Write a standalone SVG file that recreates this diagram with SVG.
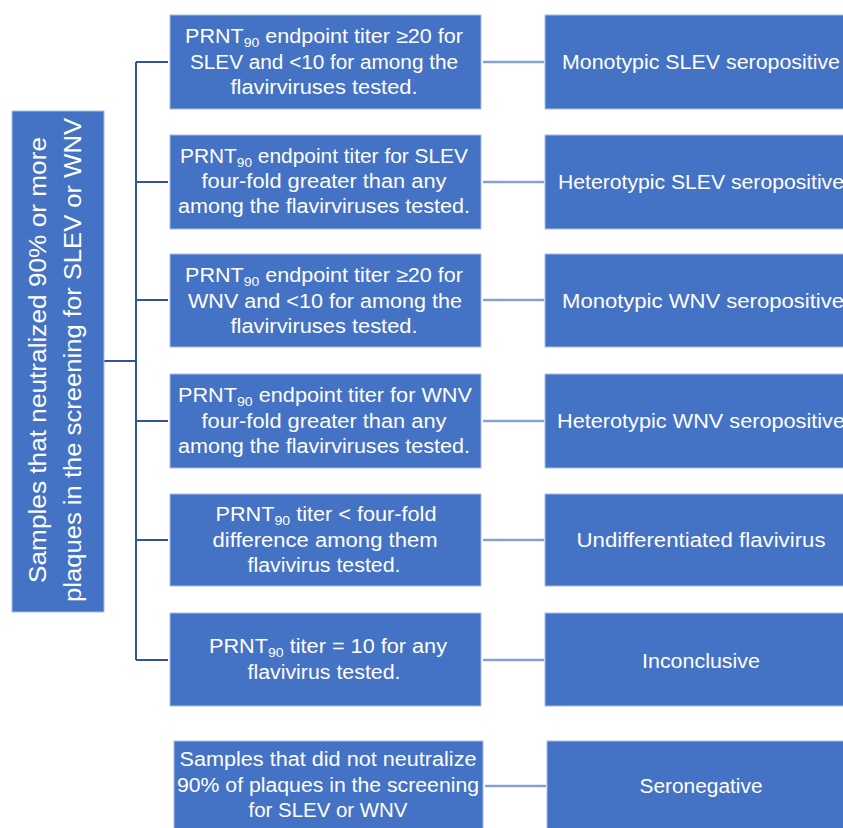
<svg xmlns="http://www.w3.org/2000/svg" width="843" height="828" viewBox="0 0 843 828">
<style>
.box{fill:#4472C4;stroke:#A9BEE6;stroke-width:1}
.t{font-family:"Liberation Sans",Arial,sans-serif;font-size:20px;fill:#FFFFFF;text-anchor:middle}
.big{font-size:23px}
.sub{font-size:13px}
.trunk{stroke:#2F5597;stroke-width:2;fill:none}
.link{stroke:#86A3D9;stroke-width:2.5;fill:none}
</style>
<rect width="843" height="828" fill="#FFFFFF"/>
<g id="connectors">
<path class="trunk" d="M136 62V660M104 361H136M136 62H168M136 182H168M136 300H168M136 421H168M136 540H168M136 660H168"/>
<path class="link" d="M483 62H544M483 182H544M483 300H544M483 421H544M483 540H544M483 660H544M485 786H546"/>
</g>
<g id="root">
<rect class="box" x="12" y="111" width="92" height="501"/>
<text class="t big" transform="translate(46,360) rotate(-90)" textLength="446" lengthAdjust="spacingAndGlyphs">Samples that neutralized 90% or more</text>
<text class="t big" transform="translate(81,360) rotate(-90)" textLength="484" lengthAdjust="spacingAndGlyphs">plaques in the screening for SLEV or WNV</text>
</g>
<g id="c1">
<rect class="box" x="170" y="15" width="311" height="94"/>
<text class="t" x="324" y="43" textLength="278" lengthAdjust="spacingAndGlyphs">PRNT<tspan class="sub" dy="4">90</tspan><tspan dy="-4"> endpoint titer ≥20 for</tspan></text>
<text class="t" x="324" y="69" textLength="268" lengthAdjust="spacingAndGlyphs">SLEV and &lt;10 for among the</text>
<text class="t" x="324" y="94" textLength="187" lengthAdjust="spacingAndGlyphs">flavirviruses tested.</text>
</g>
<g id="c2">
<rect class="box" x="170" y="135" width="311" height="94"/>
<text class="t" x="324" y="163" textLength="288" lengthAdjust="spacingAndGlyphs">PRNT<tspan class="sub" dy="4">90</tspan><tspan dy="-4"> endpoint titer for SLEV</tspan></text>
<text class="t" x="324" y="188" textLength="245" lengthAdjust="spacingAndGlyphs">four-fold greater than any</text>
<text class="t" x="324" y="213" textLength="292" lengthAdjust="spacingAndGlyphs">among the flavirviruses tested.</text>
</g>
<g id="c3">
<rect class="box" x="170" y="254" width="311" height="93"/>
<text class="t" x="324" y="282" textLength="278" lengthAdjust="spacingAndGlyphs">PRNT<tspan class="sub" dy="4">90</tspan><tspan dy="-4"> endpoint titer ≥20 for</tspan></text>
<text class="t" x="325" y="308" textLength="274" lengthAdjust="spacingAndGlyphs">WNV and &lt;10 for among the</text>
<text class="t" x="324" y="333" textLength="187" lengthAdjust="spacingAndGlyphs">flavirviruses tested.</text>
</g>
<g id="c4">
<rect class="box" x="170" y="374" width="311" height="94"/>
<text class="t" x="325" y="402" textLength="294" lengthAdjust="spacingAndGlyphs">PRNT<tspan class="sub" dy="4">90</tspan><tspan dy="-4"> endpoint titer for WNV</tspan></text>
<text class="t" x="324" y="428" textLength="245" lengthAdjust="spacingAndGlyphs">four-fold greater than any</text>
<text class="t" x="324" y="453" textLength="292" lengthAdjust="spacingAndGlyphs">among the flavirviruses tested.</text>
</g>
<g id="c5">
<rect class="box" x="170" y="494" width="311" height="92"/>
<text class="t" x="326" y="521" textLength="221" lengthAdjust="spacingAndGlyphs">PRNT<tspan class="sub" dy="4">90</tspan><tspan dy="-4"> titer &lt; four-fold</tspan></text>
<text class="t" x="325" y="547" textLength="225" lengthAdjust="spacingAndGlyphs">difference among them</text>
<text class="t" x="324" y="572" textLength="153" lengthAdjust="spacingAndGlyphs">flavivirus tested.</text>
</g>
<g id="c6">
<rect class="box" x="170" y="613" width="311" height="93"/>
<text class="t" x="328" y="653" textLength="238" lengthAdjust="spacingAndGlyphs">PRNT<tspan class="sub" dy="4">90</tspan><tspan dy="-4"> titer = 10 for any</tspan></text>
<text class="t" x="324" y="679" textLength="153" lengthAdjust="spacingAndGlyphs">flavivirus tested.</text>
</g>
<g id="neg">
<rect class="box" x="174" y="741" width="309" height="92"/>
<text class="t" x="328" y="766" textLength="297" lengthAdjust="spacingAndGlyphs">Samples that did not neutralize</text>
<text class="t" x="328" y="792" textLength="302" lengthAdjust="spacingAndGlyphs">90% of plaques in the screening</text>
<text class="t" x="328" y="817" textLength="159" lengthAdjust="spacingAndGlyphs">for SLEV or WNV</text>
</g>
<g id="r1">
<rect class="box" x="545" y="15" width="312" height="94"/>
<text class="t" x="701" y="69" textLength="278" lengthAdjust="spacingAndGlyphs">Monotypic SLEV seropositive</text>
</g>
<g id="r2">
<rect class="box" x="545" y="135" width="312" height="94"/>
<text class="t" x="701" y="189" textLength="286" lengthAdjust="spacingAndGlyphs">Heterotypic SLEV seropositive</text>
</g>
<g id="r3">
<rect class="box" x="545" y="254" width="312" height="93"/>
<text class="t" x="703" y="308" textLength="282" lengthAdjust="spacingAndGlyphs">Monotypic WNV seropositive</text>
</g>
<g id="r4">
<rect class="box" x="545" y="374" width="312" height="94"/>
<text class="t" x="701" y="428" textLength="288" lengthAdjust="spacingAndGlyphs">Heterotypic WNV seropositive</text>
</g>
<g id="r5">
<rect class="box" x="545" y="494" width="312" height="92"/>
<text class="t" x="701" y="547" textLength="249" lengthAdjust="spacingAndGlyphs">Undifferentiated flavivirus</text>
</g>
<g id="r6">
<rect class="box" x="545" y="613" width="312" height="93"/>
<text class="t" x="701" y="668" textLength="118" lengthAdjust="spacingAndGlyphs">Inconclusive</text>
</g>
<g id="r7">
<rect class="box" x="547" y="741" width="312" height="92"/>
<text class="t" x="701" y="793" textLength="123" lengthAdjust="spacingAndGlyphs">Seronegative</text>
</g>
</svg>
